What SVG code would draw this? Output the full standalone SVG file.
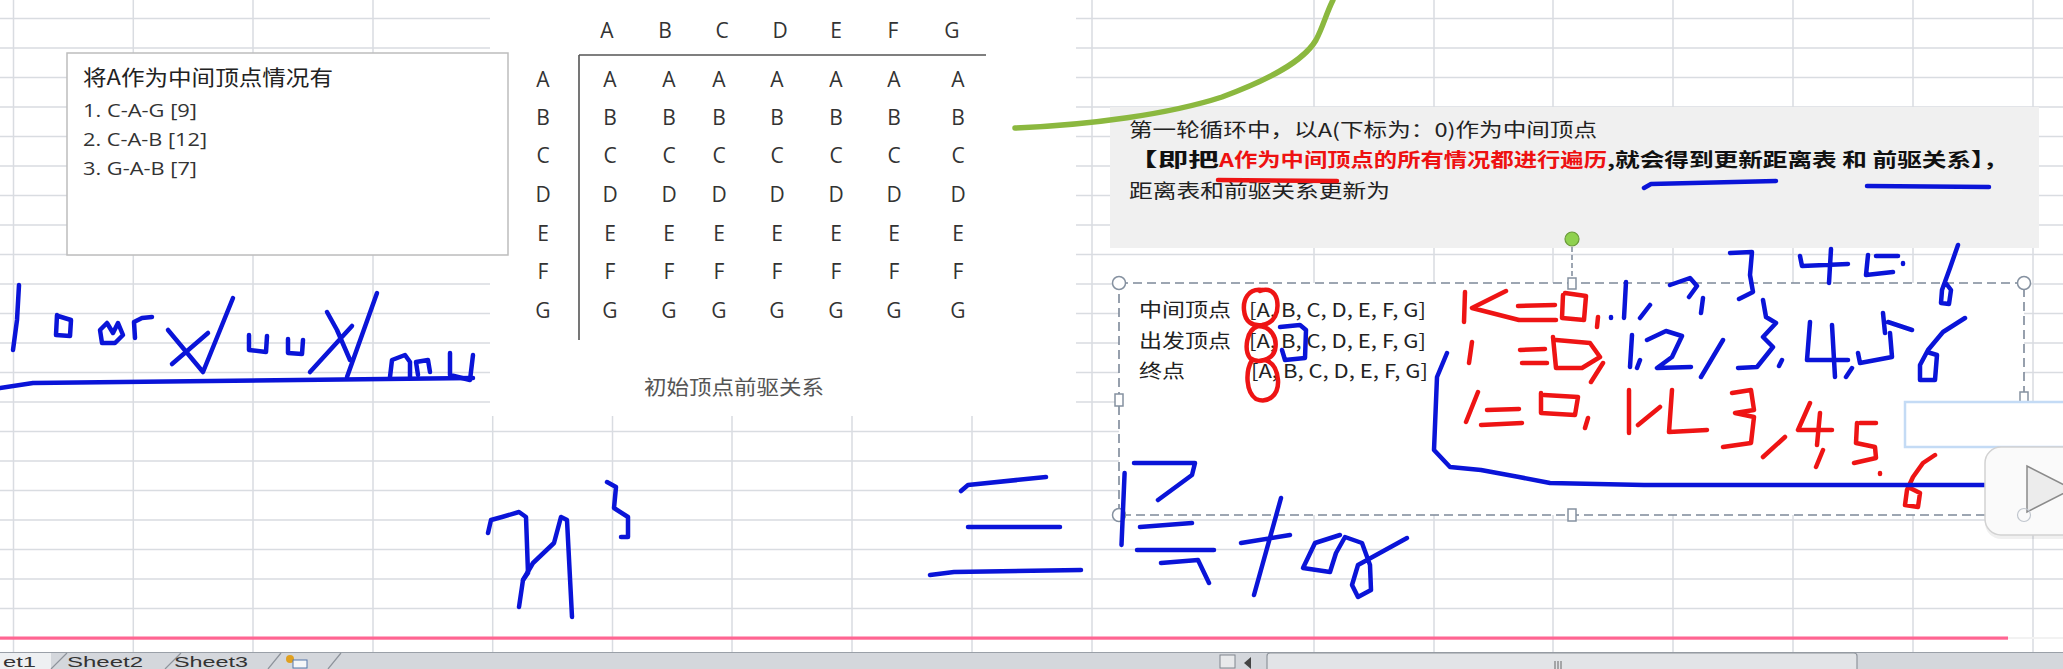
<svg xmlns="http://www.w3.org/2000/svg" width="2063" height="669" viewBox="0 0 2063 669">
<style>
.grid{stroke:#d9dce1;stroke-width:1.5;fill:none}
.cjk{font-family:"Noto Sans CJK SC","Noto Sans",sans-serif}
.lat{font-family:"Open Sans","Liberation Sans",sans-serif}
.mx{font-family:"Open Sans","Liberation Sans",sans-serif;font-size:21px;fill:#333;text-anchor:middle}
.blue{stroke:#0a14d8;stroke-width:4.5;fill:none;stroke-linecap:round;stroke-linejoin:round}
.red{stroke:#ee1414;stroke-width:4.5;fill:none;stroke-linecap:round;stroke-linejoin:round}
.hdl{fill:#fff;stroke:#8591a0;stroke-width:1.5}
.tab{font-family:"Liberation Sans",sans-serif;font-size:14px;fill:#333}
</style>
<rect width="2063" height="669" fill="#ffffff"/>
<g id="grid">
<path class="grid" d="M0,18.5H2063M0,48H2063M0,77.5H2063M0,107H2063M0,136.5H2063M0,166H2063M0,195.5H2063M0,225H2063M0,254.5H2063M0,284H2063M0,313.5H2063M0,343H2063M0,372.5H2063M0,402H2063M0,431.5H2063M0,461H2063M0,490.5H2063M0,520H2063M0,549.5H2063M0,579H2063M0,608.5H2063"/>
<path class="grid" d="M13.5,0V652M133.3,0V652M253,0V652M373,0V652M492.7,0V652M612.5,0V652M732,0V652M852,0V652M972,0V652M1092,0V652M1314,0V652M1434,0V652M1553,0V652M1673,0V652M1793,0V652M1913,0V652M2033,0V652"/>
</g>
<g id="matrix">
<rect x="490" y="0" width="586" height="416" fill="#ffffff"/>
<path d="M579,55H986M579,55V340" stroke="#555" stroke-width="1.6" fill="none"/>
<g class="mx">
<text x="607" y="38">A</text><text x="665" y="38">B</text><text x="722" y="38">C</text><text x="780" y="38">D</text><text x="836" y="38">E</text><text x="893" y="38">F</text><text x="952" y="38">G</text>
<text x="543" y="87">A</text><text x="543" y="125">B</text><text x="543" y="163">C</text><text x="543" y="202">D</text><text x="543" y="241">E</text><text x="543" y="279">F</text><text x="543" y="318">G</text>
<text y="87"><tspan x="610">A</tspan><tspan x="669">A</tspan><tspan x="719">A</tspan><tspan x="777">A</tspan><tspan x="836">A</tspan><tspan x="894">A</tspan><tspan x="958">A</tspan></text>
<text y="125"><tspan x="610">B</tspan><tspan x="669">B</tspan><tspan x="719">B</tspan><tspan x="777">B</tspan><tspan x="836">B</tspan><tspan x="894">B</tspan><tspan x="958">B</tspan></text>
<text y="163"><tspan x="610">C</tspan><tspan x="669">C</tspan><tspan x="719">C</tspan><tspan x="777">C</tspan><tspan x="836">C</tspan><tspan x="894">C</tspan><tspan x="958">C</tspan></text>
<text y="202"><tspan x="610">D</tspan><tspan x="669">D</tspan><tspan x="719">D</tspan><tspan x="777">D</tspan><tspan x="836">D</tspan><tspan x="894">D</tspan><tspan x="958">D</tspan></text>
<text y="241"><tspan x="610">E</tspan><tspan x="669">E</tspan><tspan x="719">E</tspan><tspan x="777">E</tspan><tspan x="836">E</tspan><tspan x="894">E</tspan><tspan x="958">E</tspan></text>
<text y="279"><tspan x="610">F</tspan><tspan x="669">F</tspan><tspan x="719">F</tspan><tspan x="777">F</tspan><tspan x="836">F</tspan><tspan x="894">F</tspan><tspan x="958">F</tspan></text>
<text y="318"><tspan x="610">G</tspan><tspan x="669">G</tspan><tspan x="719">G</tspan><tspan x="777">G</tspan><tspan x="836">G</tspan><tspan x="894">G</tspan><tspan x="958">G</tspan></text>
</g>
<text class="cjk" x="644" y="395" font-size="20" fill="#555" textLength="180" lengthAdjust="spacingAndGlyphs">初始顶点前驱关系</text>
</g>
<g id="leftbox">
<rect x="67" y="53" width="441" height="202" fill="#ffffff" stroke="#bdbdbd" stroke-width="1.5"/>
<text class="cjk" x="83" y="85" font-size="21" fill="#222" textLength="250" lengthAdjust="spacingAndGlyphs">将A作为中间顶点情况有</text>
<text class="lat" x="83" y="117" font-size="19" fill="#333" textLength="114" lengthAdjust="spacingAndGlyphs">1. C-A-G [9]</text>
<text class="lat" x="83" y="146" font-size="19" fill="#333" textLength="124" lengthAdjust="spacingAndGlyphs">2. C-A-B [12]</text>
<text class="lat" x="83" y="175" font-size="19" fill="#333" textLength="114" lengthAdjust="spacingAndGlyphs">3. G-A-B [7]</text>
</g>
<g id="notebox">
<rect x="1110" y="107" width="929" height="141" fill="#f0f0f0"/>
<text class="cjk" x="1129" y="137" font-size="19" fill="#222" textLength="468" lengthAdjust="spacingAndGlyphs">第一轮循环中，以A(下标为：0)作为中间顶点</text>
<text class="cjk" y="167" font-size="19" font-weight="bold" fill="#111"><tspan x="1127" textLength="92" lengthAdjust="spacingAndGlyphs">【即把</tspan><tspan x="1219" fill="#ee1111" textLength="388" lengthAdjust="spacingAndGlyphs">A作为中间顶点的所有情况都进行遍历</tspan><tspan x="1607" textLength="401" lengthAdjust="spacingAndGlyphs">,就会得到更新距离表 和 前驱关系】，</tspan></text>
<text class="cjk" x="1129" y="198" font-size="19" fill="#222" textLength="261" lengthAdjust="spacingAndGlyphs">距离表和前驱关系更新为</text>
<path class="red" d="M1218,180L1337,181" stroke-width="5"/>
<path class="blue" d="M1644,188L1651,184L1776,181M1867,186L1989,187" stroke-width="5"/>
</g>
<g id="selbox">
<rect x="1119" y="283" width="905" height="232" fill="#ffffff" stroke="#7d8999" stroke-width="1.6" stroke-dasharray="9 5"/>
<text class="cjk" x="1139" y="317" font-size="19" fill="#222" textLength="92" lengthAdjust="spacingAndGlyphs">中间顶点</text>
<text class="cjk" x="1249" y="317" font-size="19" fill="#222" textLength="177" lengthAdjust="spacingAndGlyphs">[A, B, C, D, E, F, G]</text>
<text class="cjk" x="1139" y="348" font-size="19" fill="#222" textLength="92" lengthAdjust="spacingAndGlyphs">出发顶点</text>
<text class="cjk" x="1249" y="348" font-size="19" fill="#222" textLength="177" lengthAdjust="spacingAndGlyphs">[A, B, C, D, E, F, G]</text>
<text class="cjk" x="1139" y="378" font-size="19" fill="#222" textLength="46" lengthAdjust="spacingAndGlyphs">终点</text>
<text class="cjk" x="1251" y="378" font-size="19" fill="#222" textLength="177" lengthAdjust="spacingAndGlyphs">[A, B, C, D, E, F, G]</text>
<path d="M1572,247V279" stroke="#7d8999" stroke-width="1.5" stroke-dasharray="5 3"/>
<circle cx="1572" cy="239" r="7" fill="#8fd14f" stroke="#6a9a3a" stroke-width="1.2"/>
<circle class="hdl" cx="1119" cy="283" r="6.5"/>
<circle class="hdl" cx="2024" cy="283" r="6.5"/>
<circle class="hdl" cx="1119" cy="515" r="6.5"/>
<rect class="hdl" x="1568" y="278" width="8" height="11"/>
<rect class="hdl" x="1115" y="394" width="8" height="12"/>
<rect class="hdl" x="2020" y="392" width="8" height="12"/>
<rect class="hdl" x="1568" y="509" width="8" height="12"/>
</g>
<g id="ink-left">
<path class="blue" d="M19,285L17,320L13,350"/>
<path class="blue" d="M57,315L56,335L70,336L71,320L58,316"/>
<path class="blue" d="M102,343L100,330L107,323L113,333L118,323L123,335L115,343L102,343"/>
<path class="blue" d="M135,338L134,322L142,318L152,317" stroke-width="6"/>
<path class="blue" d="M168,330L203,372L233,298M208,333L172,364"/>
<path class="blue" d="M249,335L249,350L266,352L267,336M288,339L288,353L302,354L303,340"/>
<path class="blue" d="M327,312L337,330L350,360M352,326L310,372M377,293L347,377"/>
<path class="blue" d="M390,377L392,360L405,355L410,362L410,377M418,375L416,362L428,360L430,372M450,353L450,375L470,380L473,355"/>
<path class="blue" d="M0,388L33,383L473,378" stroke-width="5"/>
</g>
<g id="ink-n3">
<path class="blue" d="M488,533L491,520L502,517L519,512L526,517L528,573L523,580L519,607"/>
<path class="blue" d="M523,580L533,563L554,543L561,517L567,520L572,617"/>
<path class="blue" d="M607,482L616,487L614,508L628,517L628,537L621,537"/>
</g>
<g id="ink-for">
<path class="blue" d="M961,491L968,485L1046,477M968,527L1060,527M930,575L954,572L1081,570"/>
<path class="blue" d="M1124.6,473L1121.5,545M1134,463L1195,463L1192,475L1158,500M1140,527L1192,523M1137,550L1214,550M1161,563L1198,560L1209,583"/>
<path class="blue" d="M1281,498L1254,595M1241,543L1290,535"/>
<path class="blue" d="M1340,535L1315,543L1303,568L1330,572L1336,553L1345,537L1362,543L1370,565L1371,590L1358,597L1352,585L1358,565L1407,538"/>
</g>
<g id="ink-circles">
<path class="red" d="M1262,290C1248,288 1243,300 1244,310C1245,322 1252,326 1262,325C1275,323 1279,312 1277,300C1275,291 1268,288 1260,291"/>
<path class="red" d="M1258,326C1246,330 1244,350 1250,358C1258,364 1272,360 1275,350C1278,337 1270,326 1258,326M1252,360C1245,372 1246,392 1256,399C1268,404 1279,395 1278,380C1277,368 1272,362 1265,360"/>
<path class="blue" d="M1280,327L1300,325L1306,330L1305,358L1285,360L1282,350"/>
</g>
<g id="ink-loops">
<path class="red" d="M1465,292L1464,322M1506,291L1472,308L1519,320M1518,306L1555,305M1520,320L1556,320M1563,295L1562,318L1584,320L1586,296L1565,293M1598,317L1597,327"/>
<path class="blue" d="M1611,317L1611,318M1626,282L1624,318M1650,305L1640,318M1670,285L1690,278L1697,286L1689,297M1703,298L1701,313M1730,253L1752,252L1750,275L1753,292L1739,299M1800,256L1802,266L1848,264M1831,249L1829,283M1868,255L1866,275L1893,272M1876,256L1898,256M1903,263L1903,264M1958,245L1950,268L1942,290L1941,303L1949,304L1951,290L1945,282"/>
<path class="red" d="M1472,342L1469,363M1520,350L1545,349M1522,363L1547,363M1553,337L1556,368L1582,368L1600,357L1590,343L1556,340M1603,363L1591,382"/>
<path class="blue" d="M1632,335L1630,367M1640,360L1637,368M1647,340L1666,331L1682,336L1672,357L1657,368L1691,367M1723,340L1701,377M1763,300L1766,317L1776,323L1763,337L1773,347L1757,367L1738,368M1782,360L1779,366M1810,322L1807,360L1848,360M1832,325L1835,377M1852,368L1846,377M1883,313L1885,333M1888,322L1912,330M1890,333L1892,357L1860,363L1858,353M1965,318L1943,332L1928,350L1920,365L1920,380L1935,380L1937,355L1927,352"/>
<path class="red" d="M1478,392L1466,422M1487,410L1519,409M1481,425L1522,423M1541,393L1541,413L1575,415L1578,397L1544,395M1588,418L1585,428M1629,390L1629,433M1660,407L1638,425M1672,390L1669,432L1707,430M1732,393L1751,390L1754,410L1735,413L1754,417L1751,443L1723,447M1785,437L1763,457M1810,403L1798,430L1832,430M1820,413L1817,445M1823,450L1816,467M1857,423L1856,443M1860,423L1876,423M1856,443L1875,447L1876,458L1854,463M1880,473L1880,474M1935,455L1923,463L1913,477L1907,490L1905,505L1918,507L1920,493L1910,488"/>
<path class="blue" d="M1447,353L1437,377L1434,450L1450,467L1481,470L1519,477L1550,483L1644,485L1989,485"/>
<path d="M1989,485L2000,485" stroke="#0a14d8" stroke-opacity="0.3" stroke-width="4.5"/>
</g>
<g id="green-curve">
<path d="M1333,0C1326,14 1323,27 1316,40C1303,62 1268,80 1222,97C1170,114 1090,125 1015,128" fill="none" stroke="#8bb83f" stroke-width="5.5" stroke-linecap="round"/>
</g>
<g id="overlay-ui">
<rect x="1905" y="402" width="170" height="45" fill="#ffffff" stroke="#c4dbf5" stroke-width="2.5"/>
<rect x="1985" y="449" width="100" height="90" rx="16" fill="#000" opacity="0.06"/>
<rect x="1985" y="447" width="100" height="88" rx="16" fill="#fafafa" stroke="#d2d2d2" stroke-width="1.5"/>
<polygon points="2027,466 2027,512 2072,489" fill="#ececec" stroke="#8a8a8a" stroke-width="1.5"/>
<circle cx="2024" cy="515" r="6.5" fill="none" stroke="#c0c6ce" stroke-width="1.2"/>
</g>
<g id="tabbar">
<rect x="0" y="652" width="2063" height="17" fill="#d4d7dc"/>
<path d="M0,652.5H2063" stroke="#9aa0a8" stroke-width="1.2"/>
<polygon points="-5,669 -5,653 51,653 51,669" fill="#eef0f2"/>
<path d="M51,669L67,653M165,669L181,653M268,669L281,653M328,669L341,653" stroke="#8d939b" stroke-width="1.2" fill="none"/>
<text class="tab" x="3" y="667" textLength="33" lengthAdjust="spacingAndGlyphs">et1</text>
<text class="tab" x="67" y="667" textLength="76" lengthAdjust="spacingAndGlyphs">Sheet2</text>
<text class="tab" x="174" y="667" textLength="74" lengthAdjust="spacingAndGlyphs">Sheet3</text>
<circle cx="290" cy="659" r="4" fill="#e0a020"/>
<rect x="293" y="660" width="14" height="8" fill="#f4f6f8" stroke="#5577aa" stroke-width="1"/>
<rect x="1220" y="655" width="15" height="13" fill="#e8e9eb" stroke="#80868e" stroke-width="1"/>
<polygon points="1251,657 1244,663 1251,669" fill="#444"/>
<rect x="1267" y="653" width="590" height="20" rx="3" fill="#e2e4e7" stroke="#8f959c" stroke-width="1.2"/>
<path d="M1555,661V669M1558,661V669M1561,661V669" stroke="#666" stroke-width="1"/>
</g>
<rect id="pinkline" x="0" y="636.5" width="2008" height="3.2" fill="#ff6592"/>
<rect x="2008" y="637" width="55" height="2" fill="#f2f2f2"/>
</svg>
